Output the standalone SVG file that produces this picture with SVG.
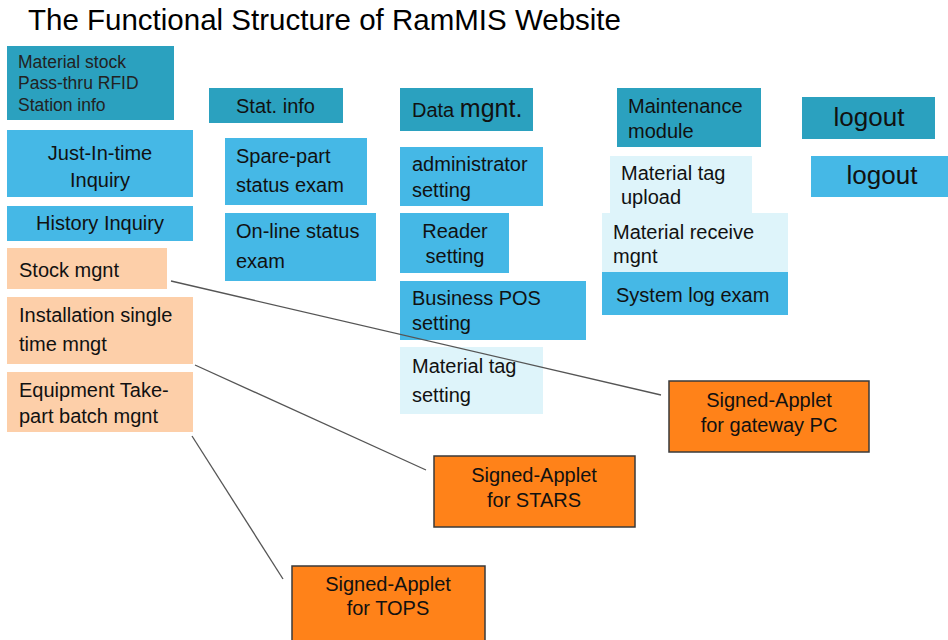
<svg xmlns="http://www.w3.org/2000/svg" width="948" height="640" viewBox="0 0 948 640">
  <style>
    text { font-family: "Liberation Sans", Arial, sans-serif; fill: #111; font-size: 20px; }
    .title { font-size: 29.5px; fill: #000; }
    .small { font-size: 17.5px; fill: #222; }
    .big { font-size: 26px; }
    .mid { text-anchor: middle; }
    .teal { fill: #2BA1BF; }
    .blue { fill: #45B8E6; }
    .pale { fill: #DEF4FA; }
    .peach { fill: #FDCFA9; }
    .applet { fill: #FF8219; stroke: #3a3a3a; stroke-width: 1.5; }
    .link { stroke: #555; stroke-width: 1.3; fill: none; }
  </style>

  <rect width="948" height="640" fill="#ffffff"/>

  <text class="title" x="28" y="30">The Functional Structure of RamMIS Website</text>

  <!-- column 1 -->
  <g id="material-stock">
    <rect class="teal" x="7" y="46" width="167" height="74"/>
    <text class="small" x="18" y="68">Material stock</text>
    <text class="small" x="18" y="89">Pass-thru RFID</text>
    <text class="small" x="18" y="111">Station info</text>
  </g>
  <g id="just-in-time">
    <rect class="blue" x="7" y="130" width="186" height="67"/>
    <text class="mid" x="100" y="160">Just-In-time</text>
    <text class="mid" x="100" y="187">Inquiry</text>
  </g>
  <g id="history">
    <rect class="blue" x="7" y="206" width="186" height="35"/>
    <text class="mid" x="100" y="230">History Inquiry</text>
  </g>
  <g id="stock-mgnt">
    <rect class="peach" x="7" y="248" width="160" height="41"/>
    <text x="19" y="277">Stock mgnt</text>
  </g>
  <g id="installation">
    <rect class="peach" x="7" y="297" width="186" height="67"/>
    <text x="19" y="322">Installation single</text>
    <text x="19" y="351">time mngt</text>
  </g>
  <g id="equipment">
    <rect class="peach" x="7" y="372" width="186" height="60"/>
    <text x="19" y="397">Equipment Take-</text>
    <text x="19" y="423">part batch mgnt</text>
  </g>

  <!-- column 2 -->
  <g id="stat-info">
    <rect class="teal" x="209" y="88" width="134" height="35"/>
    <text x="236" y="113">Stat. info</text>
  </g>
  <g id="spare-part">
    <rect class="blue" x="225" y="138" width="142" height="67"/>
    <text x="236" y="163">Spare-part</text>
    <text x="236" y="192">status exam</text>
  </g>
  <g id="online-status">
    <rect class="blue" x="225" y="213" width="151" height="68"/>
    <text x="236" y="238">On-line status</text>
    <text x="236" y="268">exam</text>
  </g>

  <!-- column 3 -->
  <g id="data-mgnt">
    <rect class="teal" x="400" y="88" width="133" height="43"/>
    <text x="412" y="117">Data <tspan font-size="25">mgnt.</tspan></text>
  </g>
  <g id="administrator">
    <rect class="blue" x="400" y="147" width="143" height="59"/>
    <text x="412" y="171">administrator</text>
    <text x="412" y="197">setting</text>
  </g>
  <g id="reader">
    <rect class="blue" x="400" y="213" width="109" height="60"/>
    <text class="mid" x="455" y="238">Reader</text>
    <text class="mid" x="455" y="263">setting</text>
  </g>
  <g id="business-pos">
    <rect class="blue" x="400" y="281" width="186" height="59"/>
    <text x="412" y="305">Business POS</text>
    <text x="412" y="330">setting</text>
  </g>
  <g id="material-tag-setting">
    <rect class="pale" x="400" y="347" width="143" height="67"/>
    <text x="412" y="373">Material tag</text>
    <text x="412" y="402">setting</text>
  </g>

  <!-- column 4 -->
  <g id="maintenance">
    <rect class="teal" x="617" y="88" width="144" height="59"/>
    <text x="628" y="113">Maintenance</text>
    <text x="628" y="138">module</text>
  </g>
  <g id="material-tag-upload">
    <rect class="pale" x="610" y="156" width="142" height="57"/>
    <text x="621" y="180">Material tag</text>
    <text x="621" y="204">upload</text>
  </g>
  <g id="material-receive">
    <rect class="pale" x="602" y="213" width="186" height="59"/>
    <text x="613" y="239">Material receive</text>
    <text x="613" y="263">mgnt</text>
  </g>
  <g id="system-log">
    <rect class="blue" x="602" y="272" width="186" height="43"/>
    <text x="616" y="302">System log exam</text>
  </g>

  <!-- column 5 -->
  <g id="logout-header">
    <rect class="teal" x="802" y="97" width="133" height="42"/>
    <text class="big mid" x="869" y="126">logout</text>
  </g>
  <g id="logout">
    <rect class="blue" x="811" y="156" width="137" height="41"/>
    <text class="big mid" x="882" y="184">logout</text>
  </g>

  <!-- signed applets -->
  <g id="applet-gateway">
    <rect class="applet" x="669" y="381" width="200" height="71"/>
    <text class="mid" x="769" y="407">Signed-Applet</text>
    <text class="mid" x="769" y="432">for gateway PC</text>
  </g>
  <g id="applet-stars">
    <rect class="applet" x="434" y="456" width="201" height="71"/>
    <text class="mid" x="534" y="482">Signed-Applet</text>
    <text class="mid" x="534" y="507">for STARS</text>
  </g>
  <g id="applet-tops">
    <rect class="applet" x="292" y="566" width="193" height="80"/>
    <text class="mid" x="388" y="591">Signed-Applet</text>
    <text class="mid" x="388" y="615">for TOPS</text>
  </g>

  <!-- connectors from management items to the signed applets, drawn over the boxes -->
  <g id="connectors">
    <line class="link" x1="171" y1="281" x2="661" y2="395"/>
    <line class="link" x1="195" y1="365" x2="426" y2="470"/>
    <line class="link" x1="192" y1="436" x2="283" y2="579"/>
  </g>
</svg>
